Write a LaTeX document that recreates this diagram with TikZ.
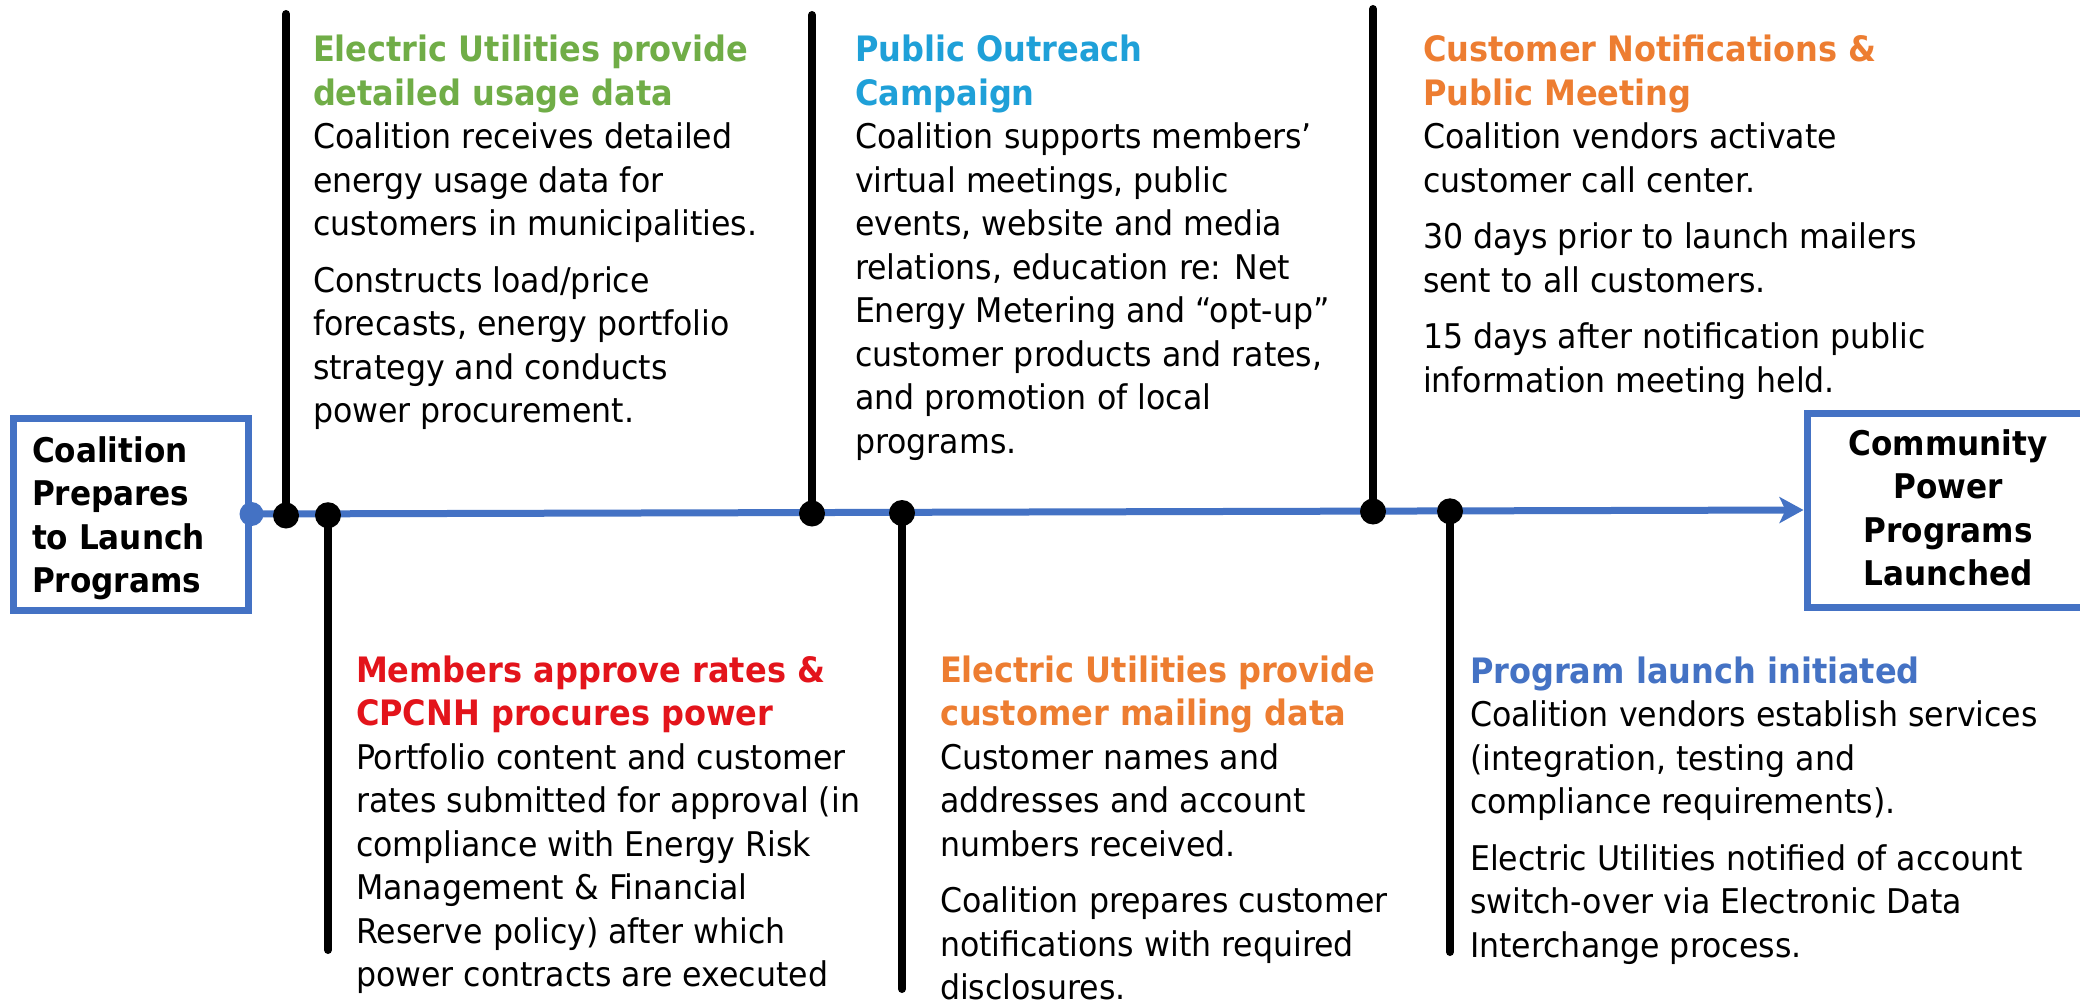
\documentclass[tikz,border=0pt]{standalone}
\usepackage{fontspec}
\setmainfont{DejaVu Sans}[UprightFeatures={FakeStretch=0.93}, BoldFeatures={FakeStretch=0.915}]
\usetikzlibrary{arrows.meta}
\definecolor{tlblue}{HTML}{4472C4}
\definecolor{hgreen}{HTML}{70AD47}
\definecolor{hcyan}{HTML}{1FA0D8}
\definecolor{hred}{HTML}{E3141B}
\definecolor{horange}{HTML}{ED7D31}
\definecolor{hblue}{HTML}{4472C4}
\newcommand{\hd}[2]{{\fontsize{35}{43.5}\selectfont\bfseries\color{#1}#2}}
\tikzset{
  body/.style={anchor=base west, inner sep=0pt, outer sep=0pt, font=\fontsize{34}{43.5}\selectfont, text=black},
  boxtxt/.style={inner sep=0pt, outer sep=0pt, font=\fontsize{34}{43.5}\selectfont\bfseries, text=black},
  stagebox/.style={draw=tlblue, line width=7pt, fill=white, rectangle, inner sep=0pt},
  stem/.style={draw=black, line width=8pt, line cap=round},
  timeline/.style={draw=tlblue, line width=7pt},
  evdot/.style={circle, fill=black, minimum size=26pt, inner sep=0pt},
  bdot/.style={circle, fill=tlblue, minimum size=24pt, inner sep=0pt}
}
\begin{document}
\begin{tikzpicture}[x=1pt, y=-1pt]
\useasboundingbox (0,0) rectangle (2080,1006);
\fill[white] (0,0) rectangle (2080,1006);

% stage boxes
\node[stagebox, minimum width=235, minimum height=192] (start) at (130.5,514) {};
\node[stagebox, minimum width=285, minimum height=194] (end) at (1949.5,510) {};
\node[boxtxt, anchor=base west] (starttxt) at (32,462)
  {\begin{tabular}[t]{@{}l@{}}Coalition\\Prepares\\to Launch\\Programs\end{tabular}};
\node[boxtxt, anchor=base] (endtxt) at (1948,455)
  {\begin{tabular}[t]{@{}c@{}}Community\\Power\\Programs\\Launched\end{tabular}};

% timeline
\draw[timeline, -{Stealth[length=24pt, width=26pt, inset=6pt]}] (start.east) -- (end.west);

% event points and stems
\coordinate (p1) at (286,515.5);
\coordinate (p2) at (328,515.2);
\coordinate (p3) at (812,513.5);
\coordinate (p4) at (902,513);
\coordinate (p5) at (1373,511.5);
\coordinate (p6) at (1450,511.3);
\coordinate (s1) at (286,14);
\coordinate (s2) at (328,950);
\coordinate (s3) at (812,15);
\coordinate (s4) at (902,989);
\coordinate (s5) at (1373,9);
\coordinate (s6) at (1450,952);
\draw[stem] (s1) -- (p1);
\draw[stem] (s2) -- (p2);
\draw[stem] (s3) -- (p3);
\draw[stem] (s4) -- (p4);
\draw[stem] (s5) -- (p5);
\draw[stem] (s6) -- (p6);
\node[bdot] (d0) at (start.east) {};
\node[evdot] (d1) at (p1) {};
\node[evdot] (d2) at (p2) {};
\node[evdot] (d3) at (p3) {};
\node[evdot] (d4) at (p4) {};
\node[evdot] (d5) at (p5) {};
\node[evdot] (d6) at (p6) {};

% top texts
\node[body] (t1) at (313,62) {\begin{tabular}[t]{@{}l@{}}
\hd{hgreen}{Electric Utilities provide}\\
\hd{hgreen}{detailed usage data}\\
Coalition receives detailed\\
energy usage data for\\
customers in municipalities.\\[13pt]
Constructs load/price\\
forecasts, energy portfolio\\
strategy and conducts\\
power procurement.
\end{tabular}};

\node[body] (t3) at (855,62) {\begin{tabular}[t]{@{}l@{}}
\hd{hcyan}{Public Outreach}\\
\hd{hcyan}{Campaign}\\
Coalition supports members’\\
virtual meetings, public\\
events, website and media\\
relations, education re: Net\\
Energy Metering and “opt-up”\\
customer products and rates,\\
and promotion of local\\
programs.
\end{tabular}};

\node[body] (t5) at (1423,62) {\begin{tabular}[t]{@{}l@{}}
\hd{horange}{Customer Notifications \&}\\
\hd{horange}{Public Meeting}\\
Coalition vendors activate\\
customer call center.\\[13pt]
30 days prior to launch mailers\\
sent to all customers.\\[13pt]
15 days after notification public\\
information meeting held.
\end{tabular}};

% bottom texts
\node[body] (t2) at (356,682) {\begin{tabular}[t]{@{}l@{}}
\hd{hred}{Members approve rates \&}\\
\hd{hred}{CPCNH procures power}\\
Portfolio content and customer\\
rates submitted for approval (in\\
compliance with Energy Risk\\
Management \& Financial\\
Reserve policy) after which\\
power contracts are executed
\end{tabular}};

\node[body] (t4) at (940,682) {\begin{tabular}[t]{@{}l@{}}
\hd{horange}{Electric Utilities provide}\\
\hd{horange}{customer mailing data}\\
Customer names and\\
addresses and account\\
numbers received.\\[13pt]
Coalition prepares customer\\
notifications with required\\
disclosures.
\end{tabular}};

\node[body] (t6) at (1470,683) {\begin{tabular}[t]{@{}l@{}}
\hd{hblue}{Program launch initiated}\\
Coalition vendors establish services\\
(integration, testing and\\
compliance requirements).\\[13pt]
Electric Utilities notified of account\\
switch-over via Electronic Data\\
Interchange process.
\end{tabular}};
\end{tikzpicture}
\end{document}
